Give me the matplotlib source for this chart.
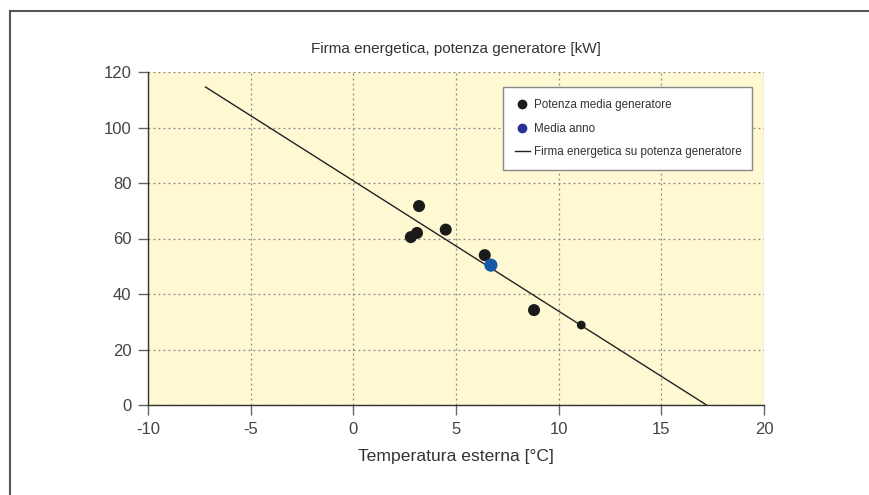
import matplotlib
matplotlib.use("Agg")
import matplotlib.pyplot as plt
from matplotlib.lines import Line2D

plt.rcParams['font.family'] = ['Liberation Sans', 'DejaVu Sans']

# Data
temp_points = [2.8, 3.1, 3.2, 4.5, 6.4, 8.8, 11.1]
power_points = [60.5, 62.0, 71.7, 63.2, 54.0, 34.2, 28.8]
point_sizes = [75, 75, 75, 75, 75, 75, 40]
year_temp = [6.7]
year_power = [50.4]
line_temp = [-7.2, 17.2]
line_power = [114.6, 0.0]

x_ticks = [-10, -5, 0, 5, 10, 15, 20]
y_ticks = [0, 20, 40, 60, 80, 100, 120]

title = "Firma energetica, potenza generatore [kW]"
xlabel = "Temperatura esterna [°C]"
legend_labels = ["Potenza media generatore", "Media anno",
                 "Firma energetica su potenza generatore"]

fig = plt.figure(figsize=(8.69, 4.95), dpi=100)
fig.patch.set_facecolor('white')

# outer frame (top and left lines)
fig.add_artist(Line2D([10/869, 10/869], [0, 1 - 11/495], transform=fig.transFigure,
                      color='#555555', lw=1.5))
fig.add_artist(Line2D([10/869, 1], [1 - 11/495, 1 - 11/495], transform=fig.transFigure,
                      color='#555555', lw=1.5))

ax = fig.add_axes([148/869, 1 - 405/495, (764 - 148)/869, (405 - 72)/495])
ax.set_facecolor('#FEF8D3')
ax.set_xlim(-10, 20)
ax.set_ylim(0, 120)
ax.set_xticks(x_ticks)
ax.set_yticks(y_ticks)
ax.set_xticklabels([str(t) for t in x_ticks])
ax.set_yticklabels([str(t) for t in y_ticks])

for s in ['top', 'right']:
    ax.spines[s].set_visible(False)
for s in ['left', 'bottom']:
    ax.spines[s].set_color('#333333')
    ax.spines[s].set_linewidth(1.0)

ax.tick_params(axis='both', colors='#666666', labelcolor='#444444', labelsize=12,
               length=7, width=1, direction='out', pad=5)
ax.grid(True, linestyle=(0, (1.5, 2.5)), color='#888888', linewidth=0.9)
ax.set_axisbelow(True)

ax.plot(line_temp, line_power, color='#222222', lw=1.0, zorder=3)
ax.scatter(temp_points, power_points, s=point_sizes, color='#1a1a1a', zorder=4,
           edgecolors='none')
ax.scatter(year_temp, year_power, s=90, color='#1659a8', zorder=5, edgecolors='none')

ax.set_title(title, fontsize=11, color='#333333', pad=14)
ax.set_xlabel(xlabel, fontsize=12.6, color='#333333', labelpad=9)

handles = [
    Line2D([], [], marker='o', linestyle='none', color='#1a1a1a', markersize=6),
    Line2D([], [], marker='o', linestyle='none', color='#2a2f96', markersize=6),
    Line2D([], [], color='#222222', lw=1.0),
]
leg = ax.legend(handles, legend_labels, loc='upper left',
                bbox_to_anchor=(0.576, 0.955, 0.404, 0.0), mode='expand',
                borderaxespad=0.0,
                fontsize=8.4, frameon=True, fancybox=False, labelspacing=1.0,
                handlelength=1.3, handletextpad=0.35, borderpad=1.03,
                labelcolor='#333333')
leg.get_frame().set_edgecolor('#888888')
leg.get_frame().set_linewidth(1.0)
leg.get_frame().set_facecolor('white')
leg.get_frame().set_alpha(1)

fig.savefig('out.png', dpi=100)
